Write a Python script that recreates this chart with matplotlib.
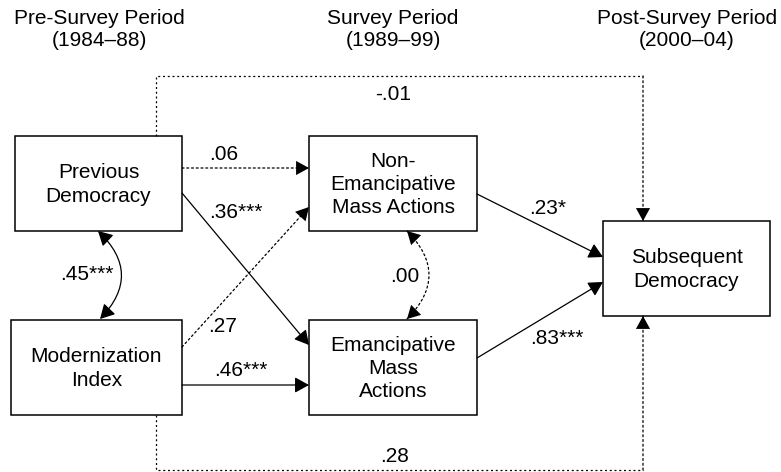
import matplotlib.pyplot as plt
from matplotlib.patches import Rectangle, FancyArrowPatch

plt.rcParams['font.family'] = ['Liberation Sans', 'DejaVu Sans']

# chart content
period_titles = ["Pre-Survey Period\n(1984–88)", "Survey Period\n(1989–99)", "Post-Survey Period\n(2000–04)"]
box_names = ["Previous\nDemocracy", "Modernization\nIndex", "Non-\nEmancipative\nMass Actions",
             "Emancipative\nMass\nActions", "Subsequent\nDemocracy"]
path_coefs = [".06", ".36***", ".27", ".46***", ".23*", ".83***"]
corr_coefs = [".45***", ".00"]
long_coefs = ["-.01", ".28"]

# layout in pixel coordinates (x0, y0, x1, y1), y grows downward
box_xy = [(15, 136, 182, 231), (11, 320, 182, 415), (309, 136, 477, 231),
          (309, 320, 477, 415), (603, 221, 770, 316)]
title_x = [99, 393, 687]

FS = 15
W, H = 781, 472
fig = plt.figure(figsize=(W / 100, H / 100), dpi=100)
ax = fig.add_axes([0, 0, 1, 1])
ax.set_xlim(0, W)
ax.set_ylim(H, 0)
ax.axis('off')

for x, t in zip(title_x, period_titles):
    ax.text(x, 29, t, ha='center', va='center', fontsize=FS, linespacing=1.2)

for (x0, y0, x1, y1), name in zip(box_xy, box_names):
    ax.add_patch(Rectangle((x0, y0), x1 - x0, y1 - y0, fill=False, lw=1.1, ec='black'))
    ax.text((x0 + x1) / 2, (y0 + y1) / 2 + 1, name, ha='center', va='center',
            fontsize=FS, linespacing=1.27)

DOT = (0, (1.6, 2.2))


def arrow(p, q, dotted=False, both=False, cs='arc3'):
    st = '<|-|>' if both else '-|>'
    st += ',head_length=0.62,head_width=0.34'
    if dotted:
        # dotted shaft, then solid filled heads only
        ax.add_patch(FancyArrowPatch(p, q, arrowstyle='-', lw=0.9, color='black',
                                     shrinkA=0, shrinkB=0, connectionstyle=cs,
                                     linestyle=DOT))
        ax.add_patch(FancyArrowPatch(p, q, arrowstyle=st, mutation_scale=15, lw=0,
                                     color='black', shrinkA=0, shrinkB=0,
                                     connectionstyle=cs))
    else:
        ax.add_patch(FancyArrowPatch(p, q, arrowstyle=st, mutation_scale=14, lw=0.9,
                                     color='black', shrinkA=0, shrinkB=0,
                                     connectionstyle=cs))


# direct paths: start, end, dotted, label position
paths = [((182, 168), (309, 168), True, (224, 154)),
         ((182, 193), (309, 345), False, (236, 212)),
         ((182, 347), (309, 207), True, (223, 327)),
         ((182, 385), (309, 385), False, (241, 370)),
         ((477, 194), (603, 257), False, (548, 209)),
         ((477, 358), (603, 282), False, (557, 338))]
for (p, q, d, lp), c in zip(paths, path_coefs):
    arrow(p, q, d)
    ax.text(lp[0], lp[1], c, ha='center', va='center', fontsize=FS)

# correlations (curved, double headed)
corrs = [((98, 231), (100, 319), False, (87, 275)),
         ((407, 231), (407, 319), True, (405, 277))]
for (p, q, d, lp), c in zip(corrs, corr_coefs):
    arrow(p, q, d, both=True, cs='arc3,rad=-0.5')
    ax.text(lp[0], lp[1], c, ha='center', va='center', fontsize=FS)

# long dotted paths around the diagram
ax.plot([156, 156, 643], [136, 76, 76], color='black', lw=0.9, linestyle=DOT)
arrow((643, 76), (643, 221), True)
ax.text(393, 94, long_coefs[0], ha='center', va='center', fontsize=FS)

ax.plot([156, 156, 643], [415, 470, 470], color='black', lw=0.9, linestyle=DOT)
arrow((643, 470), (643, 316), True)
ax.text(395, 457, long_coefs[1], ha='center', va='center', fontsize=FS)

fig.savefig('out.png', dpi=100)
